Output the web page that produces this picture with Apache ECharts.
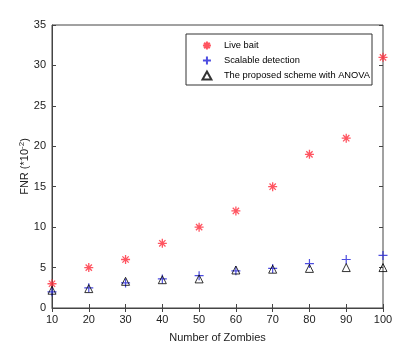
<!DOCTYPE html>
<html>
<head>
<meta charset="utf-8">
<script src="https://cdn.jsdelivr.net/npm/echarts@6/dist/echarts.min.js"></script>
<style>
  html, body { margin: 0; padding: 0; background: #fff; }
  #chart { width: 412px; height: 351px; }
</style>
</head>
<body>
<div id="chart"></div>
<script>
// number of zombies on the x axis
const zombies = [10, 20, 30, 40, 50, 60, 70, 80, 90, 100];
// FNR values (*10^-2)
const liveBait = [3, 5, 6, 8, 10, 12, 15, 19, 21, 31];
const scalable = [2, 2.5, 3.1, 3.6, 4, 4.6, 4.9, 5.5, 6, 6.5];
const anova = [2.2, 2.4, 3.3, 3.5, 3.6, 4.7, 4.8, 4.9, 5, 5];

const seriesNames = ['Live bait', 'Scalable detection', 'The proposed scheme with ANOVA'];

const starPath = 'path://M0,-10L0,10M-10,0L10,0M-7,-7L7,7M-7,7L7,-7';
const plusPath = 'path://M0,-10L0,10M-10,0L10,0';
const triPath = 'path://M0,-10L10,8L-10,8Z';

const chart = echarts.init(document.getElementById('chart'));

const pairs = (ys) => zombies.map((x, i) => [x, ys[i]]);
const font = 'Liberation Sans, Arial, sans-serif';
const axisColor = '#444';

const option = {
  backgroundColor: '#fff',
  animation: false,
  textStyle: { fontFamily: font },
  grid: {
    left: 52, right: 29, top: 25, bottom: 43,
    show: true, borderColor: axisColor, borderWidth: 1, backgroundColor: '#fff'
  },
  legend: {
    orient: 'vertical',
    left: 186,
    top: 34,
    data: seriesNames,
    borderColor: '#333',
    borderWidth: 1,
    padding: [5, 2, 3, 14],
    itemWidth: 24,
    itemHeight: 8,
    itemGap: 2,
    symbolKeepAspect: true,
    textStyle: { fontSize: 9.3, color: '#000', fontFamily: font }
  },
  xAxis: [
    {
      type: 'value',
      min: 10,
      max: 100,
      interval: 10,
      name: 'Number of Zombies',
      nameLocation: 'middle',
      nameGap: 24,
      nameTextStyle: { fontSize: 11, color: '#222' },
      axisLine: { onZero: false, lineStyle: { color: axisColor } },
      axisTick: { inside: true, length: 4, lineStyle: { color: axisColor } },
      axisLabel: { fontSize: 11, color: '#222', margin: 6 },
      splitLine: { show: false }
    },
    {
      type: 'value',
      position: 'top',
      min: 10,
      max: 100,
      interval: 10,
      axisLine: { show: false },
      axisTick: { inside: true, length: 4, lineStyle: { color: axisColor } },
      axisLabel: { show: false },
      splitLine: { show: false }
    }
  ],
  yAxis: [
    {
      type: 'value',
      min: 0,
      max: 35,
      interval: 5,
      name: 'FNR (*10{sup|-2})',
      nameLocation: 'middle',
      nameGap: 20,
      nameMoveOverlap: false,
      nameRotate: 90,
      nameTextStyle: {
        fontSize: 11,
        color: '#222',
        rich: { sup: { fontSize: 8, verticalAlign: 'top', padding: [0, 0, 6, 0], color: '#222' } }
      },
      axisLine: { onZero: false, lineStyle: { color: axisColor } },
      axisTick: { inside: true, length: 4, lineStyle: { color: axisColor } },
      axisLabel: { fontSize: 11, color: '#222', margin: 6 },
      splitLine: { show: false }
    },
    {
      type: 'value',
      position: 'right',
      min: 0,
      max: 35,
      interval: 5,
      axisLine: { show: false },
      axisTick: { inside: true, length: 4, lineStyle: { color: axisColor } },
      axisLabel: { show: false },
      splitLine: { show: false }
    }
  ],
  series: [
    {
      name: seriesNames[0],
      type: 'scatter',
      data: pairs(liveBait),
      symbol: starPath,
      symbolSize: 9,
      itemStyle: { color: 'none', borderColor: '#ff2a3a', borderWidth: 1.3 }
    },
    {
      name: seriesNames[1],
      type: 'scatter',
      data: pairs(scalable),
      symbol: plusPath,
      symbolSize: 9,
      itemStyle: { color: 'none', borderColor: '#2020d8', borderWidth: 1.2 }
    },
    {
      name: seriesNames[2],
      type: 'scatter',
      data: pairs(anova),
      symbol: triPath,
      symbolSize: 8,
      itemStyle: { color: 'none', borderColor: '#000', borderWidth: 1 }
    }
  ]
};

chart.setOption(option);
</script>
</body>
</html>
